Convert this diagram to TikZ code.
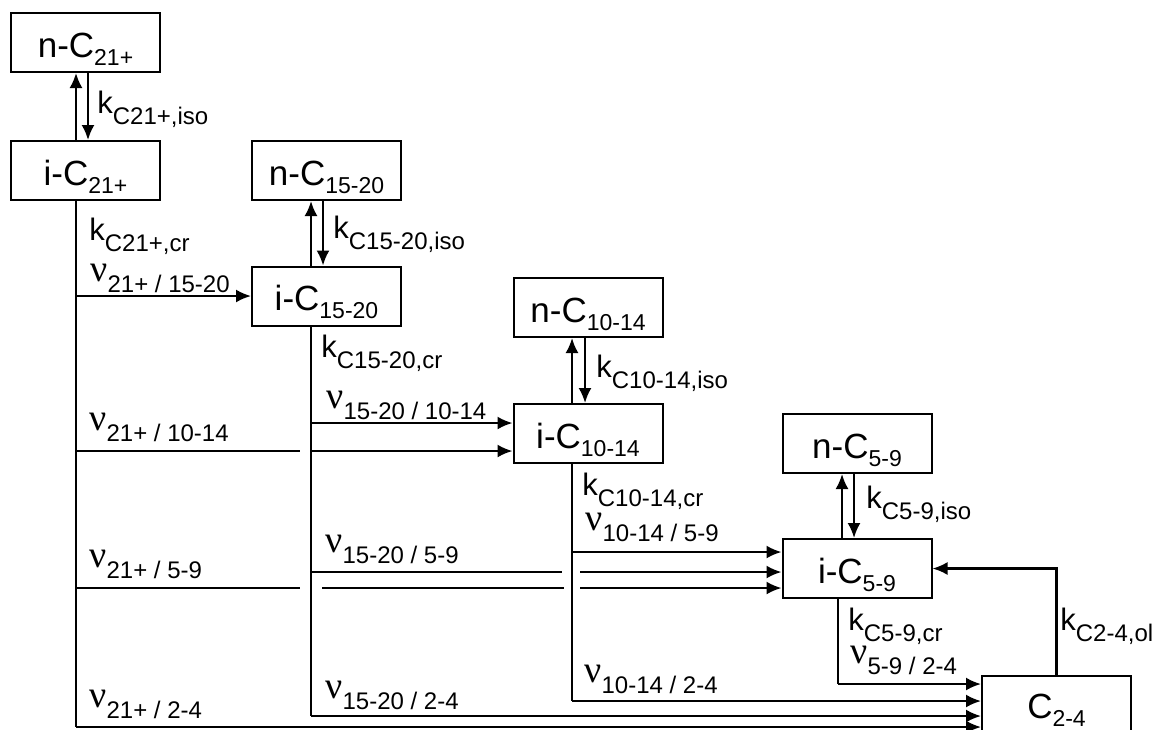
\documentclass[tikz,border=0pt]{standalone}
\usepackage{fontspec}
\setmainfont{Liberation Sans}
\newfontfamily\nufont{Liberation Serif}
\usetikzlibrary{arrows.meta}

\newcommand{\boxsub}[1]{\raisebox{-4pt}{\fontsize{11.5}{12}\selectfont #1}}
\newcommand{\ratesub}[1]{\raisebox{-5.5pt}{\fontsize{12}{13}\selectfont #1}}
\newcommand{\krate}[1]{{\fontsize{15.5}{16}\selectfont k}\ratesub{#1}}
\newcommand{\nurate}[1]{{\nufont\fontsize{19}{20}\selectfont ν}\ratesub{#1}}

\tikzset{
  species/.style={draw, line width=1pt, minimum width=74.5pt, minimum height=29.5pt,
    inner sep=0pt, font=\fontsize{17.5}{18}\selectfont, text height=16pt, text depth=1.5pt},
  flow/.style={line width=1.1pt, -{Latex[length=7.5pt,width=6.5pt]}},
  link/.style={line width=1.1pt},
  rate/.style={anchor=base west, inner sep=0pt}
}

\begin{document}
\begin{tikzpicture}[x=0.5pt, y=-0.5pt]
    % 1. Picture frame
    \useasboundingbox (0,0) rectangle (1154,729);
    \clip (0,0) rectangle (1154,729);

    % 2. Species boxes
    \node[species] (nC21) at (85.5,42.5) {n-C\boxsub{21+}};
    \node[species] (iC21) at (85.5,170.5) {i-C\boxsub{21+}};
    \node[species] (nC15) at (326.5,170.5) {n-C\boxsub{15-20}};
    \node[species] (iC15) at (326.5,296) {i-C\boxsub{15-20}};
    \node[species] (nC10) at (588,307.5) {n-C\boxsub{10-14}};
    \node[species] (iC10) at (588,433.5) {i-C\boxsub{10-14}};
    \node[species] (nC5) at (857,443.5) {n-C\boxsub{5-9}};
    \node[species] (iC5) at (857,568.5) {i-C\boxsub{5-9}};
    \node[species, text depth=3.5pt] (C2) at (1056.5,705.5) {C\boxsub{2-4}};

    % 3. Isomerisation arrows
    \draw[flow] ([xshift=-4.75pt]iC21.north) -- ([xshift=-4.75pt]nC21.south);
    \draw[flow] ([xshift=1.25pt]nC21.south) -- ([xshift=1.25pt]iC21.north);
    \draw[flow] ([xshift=-7.75pt]iC15.north) -- ([xshift=-7.75pt]nC15.south);
    \draw[flow] ([xshift=-1.75pt]nC15.south) -- ([xshift=-1.75pt]iC15.north);
    \draw[flow] ([xshift=-8pt]iC10.north) -- ([xshift=-8pt]nC10.south);
    \draw[flow] ([xshift=-1.5pt]nC10.south) -- ([xshift=-1.5pt]iC10.north);
    \draw[flow] ([xshift=-7.5pt]iC5.north) -- ([xshift=-7.5pt]nC5.south);
    \draw[flow] ([xshift=-1.5pt]nC5.south) -- ([xshift=-1.5pt]iC5.north);

    % 4. Cracking trunks
    \coordinate (r21) at (76,727);
    \coordinate (r15) at (311,716);
    \coordinate (r10) at (572,701);
    \coordinate (r5) at (838,684);
    \draw[link] ([xshift=-4.75pt]iC21.south) -- (r21);
    \draw[link] ([xshift=-7.75pt]iC15.south) -- (r15);
    \draw[link] ([xshift=-8pt]iC10.south) -- (r10);
    \draw[link] ([xshift=-9.5pt]iC5.south) -- (r5);

    % Branches of C21+
    \coordinate (b21) at (76,451);
    \coordinate (b21e) at (300,451);
    \coordinate (c21) at (76,588);
    \coordinate (c21e) at (300,588);
    \draw[flow] (r21 |- iC15.west) -- (iC15.west);
    \draw[link] (b21) -- (b21e);
    \draw[link] (c21) -- (c21e);
    \draw[flow] (r21) -- (r21 -| C2.west);

    % Branches of C15-20
    \coordinate (b15) at (311,423);
    \coordinate (b15x) at (311,451);
    \coordinate (c15) at (311,572);
    \coordinate (c15e) at (562,572);
    \coordinate (c21x) at (322,588);
    \coordinate (c21y) at (564,588);
    \draw[flow] (b15) -- (b15 -| iC10.west);
    \draw[flow] (b15x) -- (b15x -| iC10.west);
    \draw[link] (c15) -- (c15e);
    \draw[link] (c21x) -- (c21y);
    \draw[flow] (r15) -- (r15 -| C2.west);

    % Branches of C10-14
    \coordinate (b10) at (572,552);
    \coordinate (c15x) at (580,572);
    \coordinate (c21z) at (580,588);
    \draw[flow] (b10) -- (b10 -| iC5.west);
    \draw[flow] (c15x) -- (c15x -| iC5.west);
    \draw[flow] (c21z) -- (c21z -| iC5.west);
    \draw[flow] (r10) -- (r10 -| C2.west);

    % Branch of C5-9 and oligomerisation
    \draw[flow] (r5) -- (r5 -| C2.west);
    \draw[flow] (C2.north) -- (C2.north |- iC5.east) -- (iC5.east);

    % 5. Rate labels
    \node[rate] (kiso21) at (97,113) {\krate{C21+,iso}};
    \node[rate] (kcr21) at (89,240) {\krate{C21+,cr}};
    \node[rate] (nu21a) at (90,281) {\nurate{21+ / 15-20}};
    \node[rate] (kiso15) at (333,238) {\krate{C15-20,iso}};
    \node[rate] (kcr15) at (321,357) {\krate{C15-20,cr}};
    \node[rate] (nu15a) at (326,408) {\nurate{15-20 / 10-14}};
    \node[rate] (kiso10) at (596,377) {\krate{C10-14,iso}};
    \node[rate] (nu21b) at (89,430) {\nurate{21+ / 10-14}};
    \node[rate] (kcr10) at (582,495) {\krate{C10-14,cr}};
    \node[rate] (nu10a) at (585,530) {\nurate{10-14 / 5-9}};
    \node[rate] (kiso5) at (866,508) {\krate{C5-9,iso}};
    \node[rate] (nu15b) at (325,552) {\nurate{15-20 / 5-9}};
    \node[rate] (nu21c) at (89,567) {\nurate{21+ / 5-9}};
    \node[rate] (kcr5) at (848,630) {\krate{C5-9,cr}};
    \node[rate] (nu5) at (850,663) {\nurate{5-9 / 2-4}};
    \node[rate] (kol) at (1060,630) {\krate{C2-4,ol}};
    \node[rate] (nu10b) at (584,682) {\nurate{10-14 / 2-4}};
    \node[rate] (nu15c) at (325,698) {\nurate{15-20 / 2-4}};
    \node[rate] (nu21d) at (89,707) {\nurate{21+ / 2-4}};
\end{tikzpicture}
\end{document}
